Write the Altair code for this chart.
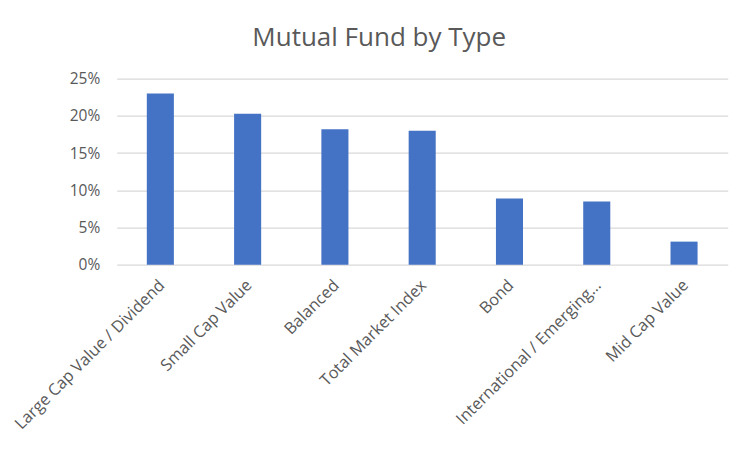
import altair as alt
import pandas as pd

categories = [
    "Large Cap Value / Dividend",
    "Small Cap Value",
    "Balanced",
    "Total Market Index",
    "Bond",
    "International / Emerging…",
    "Mid Cap Value",
]
shares = [0.230, 0.203, 0.182, 0.180, 0.089, 0.085, 0.031]
y_ticks = [0, 0.05, 0.10, 0.15, 0.20, 0.25]

df = pd.DataFrame({"type": categories, "share": shares})

FONT = "Open Sans"
GREY = "#595959"

chart = (
    alt.Chart(df)
    .mark_bar(color="#4472C4")
    .encode(
        x=alt.X(
            "type:N",
            sort=None,
            title=None,
            scale=alt.Scale(paddingInner=0.69, paddingOuter=0.345),
            axis=alt.Axis(
                labelAngle=-45,
                domain=False,
                ticks=False,
                labelPadding=12,
                labelOffset=-4,
                labelFont=FONT,
                labelFontSize=16.3,
                labelColor=GREY,
                labelLimit=400,
            ),
        ),
        y=alt.Y(
            "share:Q",
            title=None,
            scale=alt.Scale(domain=[0, 0.25], nice=False),
            axis=alt.Axis(
                values=y_ticks,
                format=".0%",
                domain=False,
                ticks=False,
                labelPadding=17,
                labelFont=FONT,
                labelFontSize=15.5,
                labelColor=GREY,
                gridColor="#d9d9d9",
                gridWidth=1.3,
            ),
        ),
    )
    .properties(
        width=611,
        height=186,
        autosize=alt.AutoSizeParams(type="none"),
        padding={"left": 108.7, "top": 70.7, "right": 16, "bottom": 180},
        title=alt.TitleParams(
            "Mutual Fund by Type",
            anchor="middle",
            dx=-43,
            dy=32,
            offset=32,
            baseline="alphabetic",
            font=FONT,
            fontSize=26,
            fontWeight="normal",
            color=GREY,
        ),
    )
    .configure_view(stroke=None)
)

chart.save("out.html", embed_options={"renderer": "svg", "actions": False})
